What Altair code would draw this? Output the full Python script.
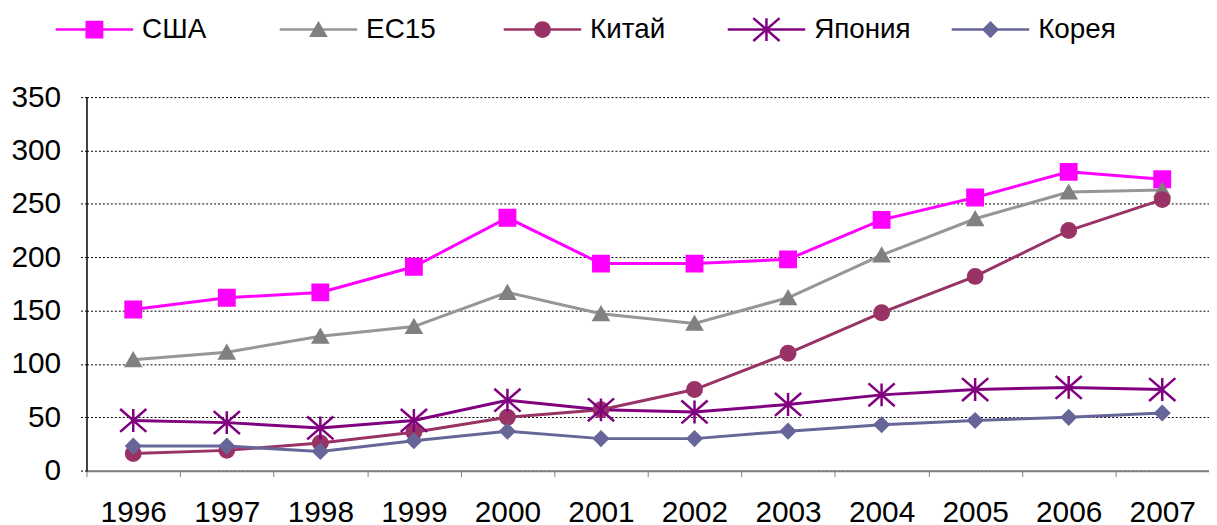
import altair as alt
import pandas as pd

# ---- data ----
years = ["1996", "1997", "1998", "1999", "2000", "2001", "2002",
         "2003", "2004", "2005", "2006", "2007"]
series_names = ["США", "ЕС15", "Китай", "Япония", "Корея"]
usa = [151, 162, 167, 191, 237, 194, 194, 198, 235, 256, 280, 273]
ec15 = [104, 111, 126, 135, 167, 147, 138, 162, 202, 236, 261, 263]
china = [16, 19, 26, 36, 50, 57, 76, 110, 148, 182, 225, 254]
japan = [47, 45, 40, 47, 66, 57, 55, 62, 71, 76, 78, 76]
korea = [23, 23, 18, 28, 37, 30, 30, 37, 43, 47, 50, 54]
y_ticks = [0, 50, 100, 150, 200, 250, 300, 350]

# ---- styles ----
line_colors = ["#FF00FF", "#969696", "#993366", "#800080", "#666699"]
marker_colors = ["#FF00FF", "#808080", "#993366", "#800080", "#666699"]
ASTERISK = "M0,-0.87L0,0.87M-1,-0.87L1,0.87M-1,0.87L1,-0.87"
marker_shapes = ["square", "triangle-up", "circle", ASTERISK, "diamond"]
marker_sizes = [240, 210, 210, 700, 190]
FONT = "Liberation Sans"
W, H = 1130, 376          # visible plot area, up to the window edge
BAND_OVERRUN = alt.ExprRef("-0.04")   # last band runs a little past the edge
LEGEND_RANGE = [8, 910]
LEGEND_Y = -68

rows = []
for name, vals in zip(series_names, [usa, ec15, china, japan, korea]):
    for yr, v in zip(years, vals):
        rows.append({"year": yr, "series": name, "value": v})
df = pd.DataFrame(rows)
legend_df = pd.DataFrame({"series": series_names})

line_scale = alt.Scale(domain=series_names, range=line_colors)
marker_scale = alt.Scale(domain=series_names, range=marker_colors)
shape_scale = alt.Scale(domain=series_names, range=marker_shapes)
size_scale = alt.Scale(type="ordinal", domain=series_names, range=marker_sizes)

x_enc = alt.X(
    "year:N", sort=years,
    scale=alt.Scale(type="band", paddingInner=0, paddingOuter=BAND_OVERRUN, align=0),
    axis=alt.Axis(title=None, labelAngle=0, labelFontSize=30, labelFont=FONT,
                  labelColor="black", tickBand="extent", tickSize=6,
                  tickColor="#808080", domainColor="#808080", domainWidth=2,
                  labelPadding=21, grid=False),
)
y_enc = alt.Y(
    "value:Q",
    scale=alt.Scale(domain=[0, 350], nice=False),
    axis=alt.Axis(title=None, values=y_ticks, labelFontSize=30, labelFont=FONT,
                  labelColor="black", tickSize=6, tickDash=[2, 2],
                  tickColor="black", domainColor="black", domainWidth=1.5,
                  labelPadding=20, grid=True, gridColor="black",
                  gridDash=[2, 2], gridWidth=1),
)

lines = alt.Chart(df).mark_line(strokeWidth=3).encode(
    x=x_enc, y=y_enc,
    color=alt.Color("series:N", scale=line_scale, legend=None),
)
points = alt.Chart(df).mark_point(filled=True, strokeWidth=2.5, opacity=1).encode(
    x=x_enc, y=y_enc,
    fill=alt.Fill("series:N", scale=marker_scale, legend=None),
    stroke=alt.Stroke("series:N", scale=marker_scale, legend=None),
    shape=alt.Shape("series:N", scale=shape_scale, legend=None),
    size=alt.Size("series:N", scale=size_scale, legend=None),
)
plot_layer = alt.layer(lines, points)

# ---- custom legend (line + marker + text) above the plot ----
lx = alt.X("series:N", sort=series_names,
           scale=alt.Scale(type="point", domain=series_names, range=LEGEND_RANGE, padding=0),
           axis=None)
leg_rule = alt.Chart(legend_df).mark_rule(strokeWidth=2.5, xOffset=-39, x2Offset=39).encode(
    x=lx, x2=alt.X2("series:N"), y=alt.value(LEGEND_Y),
    color=alt.Color("series:N", scale=line_scale, legend=None),
)
leg_pts = alt.Chart(legend_df).mark_point(filled=True, strokeWidth=2.5, opacity=1).encode(
    x=lx, y=alt.value(LEGEND_Y),
    fill=alt.Fill("series:N", scale=marker_scale, legend=None),
    stroke=alt.Stroke("series:N", scale=marker_scale, legend=None),
    shape=alt.Shape("series:N", scale=shape_scale, legend=None),
    size=alt.Size("series:N", scale=size_scale, legend=None),
)
leg_txt = alt.Chart(legend_df).mark_text(
    align="left", baseline="middle", dx=48, fontSize=28, font=FONT, color="black"
).encode(x=lx, y=alt.value(LEGEND_Y), text="series:N")
legend_layer = alt.layer(leg_rule, leg_pts, leg_txt)

chart = (
    alt.layer(plot_layer, legend_layer)
    .resolve_scale(x="independent")
    .properties(
        width=W, height=H,
        autosize=alt.AutoSizeParams(type="none"),
        padding={"left": 79, "top": 88, "right": 0, "bottom": 53},
    )
    .configure_view(stroke=None)
)

chart.save("out.html", embed_options={"renderer": "svg", "actions": False})
